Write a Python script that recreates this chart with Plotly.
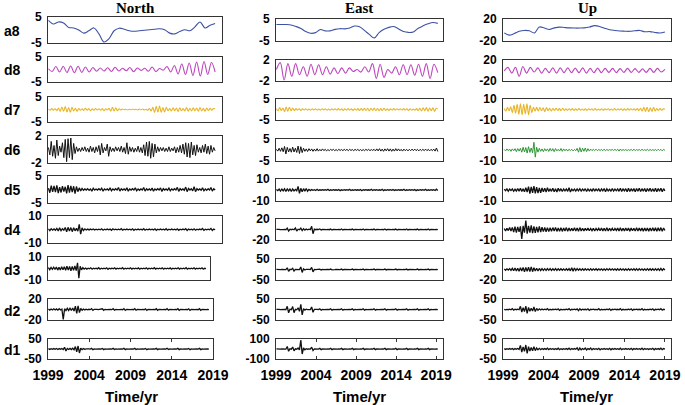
import numpy as np
import plotly.graph_objects as go

# ---------------- data ----------------
COMPONENTS = ["a8", "d8", "d7", "d6", "d5", "d4", "d3", "d2", "d1"]
DIRECTIONS = ["North", "East", "Up"]
X_TICKS = [1999, 2004, 2009, 2014, 2019]
X_TICK_LABELS = ["1999", "2004", "2009", "2014", "2019"]
Y_LIMITS_NORTH = [5, 5, 5, 2, 5, 10, 10, 20, 50]
Y_LIMITS_EAST = [5, 2, 5, 5, 10, 20, 50, 50, 100]
Y_LIMITS_UP = [20, 20, 10, 10, 10, 10, 20, 50, 50]
TIME_SPAN_NORTH = (1999.05, 2018.5)
TIME_SPAN_EAST = (1999.05, 2019.2)
TIME_SPAN_UP = (1999.15, 2019.0)

NORTH_A8 = [3.7, 2.3, 3.1, 2.7, 1.0, 0.8, 0.0, -1.2, -0.3, 0.8, -1.5, -4.6, -3.3, -0.3, 0.7, 0.3, -0.3,
            -0.5, -0.3, -0.1, 0.1, 0.3, 0.5, 0.1, -1.2, -1.5, -0.6, 0.1, -0.3, 1.2, 3.1, 0.8, 1.8, 2.5]
NORTH_D8 = [0.3, -0.8, 1.2, -1.0, 1.3, -1.2, 1.4, -1.3, 1.3, -1.2, 1.0, -1.0, 0.8, -0.7, 0.6, -0.6, 0.7,
            -0.8, 0.9, -0.6, 0.5, -0.5, 0.8, -0.9, 0.6, -0.4, 0.5, -0.7, 1.0, -0.8, 0.4, -0.3, 1.2, -1.0,
            1.6, -1.8, 2.2, -2.0, 2.6, -2.4, 3.0, -2.6, 3.2, -2.0, 2.8, -1.0]
NORTH_D7 = [0.2, -0.3, 0.4, -0.3, 0.3, -0.4, 0.6, -0.8, 1.0, -0.7,
            1.2, -1.0, 0.8, -1.1, 0.9, -0.6, 0.5, -0.7, 0.4, -0.3,
            0.3, -0.4, 0.5, -0.3, 0.4, -0.5, 0.3, -0.3, 0.4, -0.2,
            0.3, -0.3, 0.4, -0.5, 0.3, -0.2, 0.5, -0.7, 0.9, -0.6,
            0.7, -0.5, 0.3, -0.2, 0.2, -0.1, 0.1, -0.2, 0.1, -0.1,
            0.2, -0.1, 0.1, -0.2, 0.2, -0.1, 0.2, -0.2, 0.1, -0.3,
            0.4, -0.6, 0.9, -1.2, 1.3, -1.0, 1.4, -1.1, 0.8, -1.0,
            0.9, -0.5, 0.4, -0.6, 0.7, -0.5, 0.6, -0.8, 0.7, -0.5,
            0.4, -0.6, 0.8, -0.7, 0.5, -0.6, 0.7, -0.5, 0.6, -0.7,
            0.8, -0.6, 0.5, -0.7, 0.6, -0.4, 0.5, -0.3, 0.4, 0.3]
NORTH_D6 = [0.3, -0.8, 1.2, -1.0, 0.6, -1.3, 1.4, -0.9, 0.5, -0.4, 1.0, -1.2,
            1.5, -1.8, 1.6, -1.2, 1.7, -1.5, 0.9, -0.6, 0.4, -0.3, 0.2, -0.3,
            0.3, -0.2, 0.4, -0.3, 0.2, -0.4, 0.5, -0.3, 0.3, -0.5, 0.4, -0.3,
            0.6, -0.8, 0.9, -0.5, 0.3, -0.2, 0.8, -1.0, 0.4, -0.3, 0.2, -0.3,
            0.4, -0.2, 0.3, -0.3, 0.5, -0.4, 0.3, -0.6, 1.0, -0.7, 0.4, -0.3,
            0.3, -0.4, 0.2, -0.3, 0.5, -0.4, 0.3, -0.5, 0.7, -0.9, 1.1, -1.0,
            1.2, -1.3, 0.9, -1.1, 0.8, -0.5, 0.4, -0.3, 0.3, -0.2, 0.3, -0.3,
            0.2, -0.3, 0.4, -0.3, 0.2, -0.2, 0.4, -0.5, 0.3, -0.4, 0.6, -0.5,
            0.8, -0.7, 1.0, -1.1, 0.9, -1.2, 1.1, -0.8, 0.6, -0.9, 0.7, -0.4,
            0.3, -0.5, 0.6, -0.4, 0.8, -0.6, 0.5, -0.7, 0.6, -0.4, 0.3, -0.2]
NORTH_D5 = [0.5, -1.2, 1.4, -0.9, 1.3, -1.0, 1.5, -1.3, 0.9, -1.1, 1.2, -0.8,
            1.0, -1.4, 1.6, -1.2, 1.3, -1.0, 1.2, -1.5, 1.1, -0.8, 0.6, -0.5,
            0.4, -0.3, 0.2, -0.2, 0.3, -0.3, 0.2, -0.6, 0.5, -0.2, 0.2, -0.2,
            0.3, -0.2, 0.5, -0.6, 0.2, -0.2, 0.2, -0.3, 0.6, -0.5, 0.2, -0.2,
            0.3, -0.2, 0.7, -0.6, 0.3, -0.2, 0.2, -0.3, 0.6, -0.6, 0.2, -0.2,
            0.3, -0.2, 0.6, -0.5, 0.2, -0.3, 0.2, -0.2, 0.7, -0.6, 0.3, -0.2,
            0.2, -0.3, 0.5, -0.6, 0.2, -0.2, 0.3, -0.2, 0.6, -0.7, 0.3, -0.2,
            0.2, -0.3, 0.5, -0.5, 0.2, -0.2, 0.3, -0.2, 0.8, -0.7, 0.3, -0.2,
            0.2, -0.3, 0.9, -0.8, 0.4, -0.2, 0.3, -0.5, 1.0, -0.8, 0.3, -0.2,
            0.2, -0.3, 0.6, -0.5, 0.2, -0.3, 0.3, -0.2, 0.7, -0.6, 0.3, -0.2]
NORTH_D4 = [0.5, -0.8, 0.6, -0.5, 0.4, -0.6, 0.8, -1.0, 1.2, -0.9, 0.6, -0.5,
            1.5, -1.8, 1.6, -1.2, 1.4, -1.6, 1.3, -1.0, 0.8, -1.2, 3.8, -3.5,
            1.2, -0.8, 0.5, -0.4, 0.3, -0.3, 0.3, -0.2, 0.4, -0.4, 0.2, -0.3,
            0.2, -0.2, 0.5, -0.5, 0.2, -0.2, 0.3, -0.2, 0.3, -0.6, 0.5, -0.2,
            0.2, -0.3, 0.2, -0.2, 0.6, -0.5, 0.2, -0.2, 0.3, -0.2, 0.2, -0.3,
            0.5, -0.6, 0.2, -0.2, 0.3, -0.2, 0.2, -0.3, 0.6, -0.5, 0.2, -0.2,
            0.3, -0.2, 0.2, -0.3, 0.5, -0.6, 0.2, -0.2, 0.3, -0.2, 0.2, -0.3,
            0.6, -0.5, 0.2, -0.2, 0.3, -0.2, 0.2, -0.3, 0.5, -0.6, 0.2, -0.2,
            0.3, -0.2, 0.6, -0.7, 0.3, -0.2, 0.2, -0.3, 0.5, -0.5, 0.2, -0.2,
            0.3, -0.2, 0.7, -0.6, 0.2, -0.3, 0.2, -0.2, 0.8, -0.7, 0.3, -0.2]
NORTH_D3 = [0.8, -1.0, 0.9, -0.7, 1.1, -0.9, 1.2, -1.4, 1.0, -1.3, 1.5, -1.1,
            1.6, -1.5, 1.9, -1.4, 1.7, -2.0, 1.8, -1.6, 2.2, -1.8, 5.0, -8.5,
            2.0, -1.2, 0.8, -0.6, 0.4, -0.5, 0.3, -0.3, 0.6, -0.6, 0.3, -0.2,
            0.3, -0.3, 0.7, -0.6, 0.2, -0.3, 0.3, -0.2, 0.6, -0.7, 0.3, -0.2,
            0.2, -0.3, 0.6, -0.5, 0.3, -0.2, 0.3, -0.2, 0.7, -0.6, 0.2, -0.3,
            0.2, -0.3, 0.6, -0.5, 0.3, -0.2, 0.3, -0.2, 0.5, -0.6, 0.2, -0.3,
            0.2, -0.3, 0.6, -0.6, 0.3, -0.2, 0.3, -0.2, 0.7, -0.5, 0.2, -0.3,
            0.2, -0.3, 0.6, -0.6, 0.3, -0.2, 0.3, -0.2, 0.5, -0.6, 0.2, -0.3,
            0.2, -0.3, 0.6, -0.5, 0.3, -0.2, 0.3, -0.2, 0.7, -0.6, 0.2, -0.3,
            0.2, -0.3, 0.6, -0.5, 0.3, -0.2, 0.3, -0.2, 0.6, -0.6, 0.2, -0.2]
NORTH_D2 = [1.0, -1.2, 0.8, -1.0, 1.3, -0.9, 1.1, -1.3, 1.5, -1.0, 0.8, -19.0,
            1.5, -2.0, 2.2, -1.8, 2.5, -2.0, 2.8, -3.0, 6.5, -7.5, 7.0, -6.0,
            2.0, -1.5, 1.0, -0.8, 0.6, -0.5, 0.4, -0.3, 1.5, -1.6, 0.3, -0.4,
            0.3, -0.3, 0.4, -0.3, 1.4, -1.5, 0.3, -0.4, 0.3, -0.3, 0.4, -0.3,
            1.5, -1.4, 0.3, -0.3, 0.4, -0.3, 0.3, -0.4, 1.6, -1.5, 0.3, -0.3,
            0.4, -0.3, 0.3, -0.4, 1.5, -1.4, 0.3, -0.3, 0.4, -0.3, 0.3, -0.4,
            1.4, -1.6, 0.3, -0.3, 0.4, -0.3, 0.3, -0.4, 1.5, -1.5, 0.3, -0.3,
            0.4, -0.3, 0.3, -0.4, 1.6, -1.4, 0.3, -0.3, 0.4, -0.3, 0.3, -0.4,
            1.5, -1.5, 0.3, -0.3, 0.4, -0.3, 0.3, -0.4, 1.4, -1.6, 0.3, -0.3,
            0.4, -0.3, 0.3, -0.4, 1.5, -1.5, 0.3, -0.3, 0.4, -0.3, 0.3, -0.2]
NORTH_D1 = [1.5, -2.0, 1.8, -1.5, 2.0, -1.8, 2.2, -2.5, 2.0, -1.8, 2.5, -3.0,
            9.0, -10.0, 3.0, -2.5, 3.0, -2.8, 3.5, -4.0, 12.0, -14.0, 15.0, -20.0,
            4.0, -3.0, 2.0, -1.5, 1.0, -1.0, 0.8, -0.7, 3.0, -3.2, 0.7, -0.8,
            0.7, -0.6, 0.8, -0.7, 2.8, -3.0, 0.6, -0.8, 0.7, -0.6, 0.8, -0.7,
            3.0, -2.8, 0.7, -0.6, 0.8, -0.7, 0.6, -0.8, 3.2, -3.0, 0.7, -0.6,
            0.8, -0.7, 0.6, -0.8, 3.0, -2.8, 0.7, -0.6, 0.8, -0.7, 0.6, -0.8,
            2.8, -3.2, 0.7, -0.6, 0.8, -0.7, 0.6, -0.8, 3.0, -3.0, 0.7, -0.6,
            0.8, -0.7, 0.6, -0.8, 3.2, -2.8, 0.7, -0.6, 0.8, -0.7, 0.6, -0.8,
            3.0, -3.0, 0.7, -0.6, 0.8, -0.7, 0.6, -0.8, 2.8, -3.2, 0.7, -0.6,
            0.8, -0.7, 0.6, -0.8, 3.0, -3.0, 0.7, -0.6, 0.8, -0.7, 0.6, -0.4]

EAST_A8 = [2.5, 2.5, 2.5, 2.3, 1.6, 0.7, -0.7, -1.5, -1.2, 0.2, -0.4, -0.4, 0.3, 0.6, 0.5, 0.9, 1.8,
           1.5, -0.2, -2.0, -3.6, -1.2, 0.3, 1.2, 1.6, 0.5, -0.7, -1.1, -0.9, 0.8, 1.9, 2.8, 3.4, 3.0]
EAST_D8 = [0.2, 1.5, -1.8, 1.3, -1.1, 1.3, -0.8, 0.7, -1.1, 1.2, -0.8, 1.1, -0.8, 0.7, -0.7, 0.5,
           -0.6, 0.5, -0.5, 0.5, -0.2, 0.2, -0.3, 0.7, -0.3, 1.3, -1.5, 1.2, -1.3, 0.2, -0.5, 0.7,
           -0.8, 1.1, -0.8, 1.1, -0.9, 1.2, -1.1, 1.3, -1.5, 1.2, -0.4]
EAST_D7 = [0.3, -0.6, 0.9, -0.5, 0.7, -1.0, 1.2, -0.8, 1.1, -0.6,
           0.7, -0.5, 0.4, -0.3, 0.3, -0.4, 0.3, -0.2, 0.3, -0.3,
           0.2, -0.3, 0.3, -0.2, 0.3, -0.3, 0.2, -0.3, 0.3, -0.2,
           0.3, -0.3, 0.2, -0.3, 0.3, -0.2, 0.3, -0.3, 0.4, -0.3,
           0.3, -0.4, 0.3, -0.3, 0.4, -0.3, 0.3, -0.4, 0.3, -0.3,
           0.4, -0.5, 0.5, -0.4, 0.6, -0.5, 0.6, -0.7, 0.6, -0.5,
           0.7, -0.6, 0.5, -0.6, 0.4, -0.5, 0.6, -0.4, 0.3, -0.4,
           0.3, -0.3, 0.4, -0.3, 0.3, -0.2, 0.3, -0.3, 0.4, -0.3,
           0.3, -0.4, 0.3, -0.3, 0.2, -0.3, 0.4, -0.5, 0.6, -0.7,
           0.8, -0.6, 0.9, -0.8, 0.7, -0.6, 0.8, -0.9, 0.6, 0.3]
EAST_D6 = [0.3, -0.5, 0.8, -0.6, 1.0, -0.8, 1.6, -1.8, 1.2, -0.9, 0.7, -1.0,
           1.3, -0.9, 0.8, -1.1, 1.8, -1.6, 1.5, -1.2, 0.8, -0.6, 0.5, -0.7,
           0.6, -0.4, 0.5, -0.6, 0.4, -0.5, 0.6, -0.5, 0.3, -0.4, 0.5, -0.3,
           0.3, -0.4, 0.2, -0.3, 0.3, -0.2, 0.3, -0.3, 0.2, -0.3, 0.3, -0.2,
           0.2, -0.3, 0.3, -0.2, 0.3, -0.3, 0.3, -0.2, 0.2, -0.3, 0.3, -0.2,
           0.3, -0.3, 0.2, -0.3, 0.2, -0.3, 0.3, -0.2, 0.3, -0.3, 0.2, -0.2,
           0.3, -0.4, 0.5, -0.4, 0.6, -0.5, 0.4, -0.6, 0.5, -0.4, 0.6, -0.5,
           0.5, -0.6, 0.4, -0.5, 0.6, -0.4, 0.5, -0.4, 0.3, -0.5, 0.4, -0.3,
           0.3, -0.4, 0.3, -0.3, 0.4, -0.3, 0.4, -0.3, 0.3, -0.4, 0.3, -0.3,
           0.3, -0.3, 0.4, -0.3, 0.3, -0.4, 0.3, -0.3, 0.4, -0.5, 0.9, -0.7]
EAST_D5 = [0.4, -0.6, 0.8, -1.0, 0.9, -0.7, 1.1, -1.3, 1.0, -0.8, 0.9, -1.2,
           1.0, -0.8, 0.6, -0.7, 3.2, -3.0, 1.5, -1.6, 1.2, -1.0, 1.4, -1.1,
           0.6, -0.5, 0.4, -0.3, 0.3, -0.4, 0.6, -0.5, 0.2, -0.2, 0.3, -0.2,
           0.3, -0.3, 0.6, -0.5, 0.2, -0.3, 0.3, -0.2, 0.2, -0.3, 0.5, -0.6,
           0.2, -0.3, 0.3, -0.2, 0.3, -0.3, 0.6, -0.5, 0.2, -0.3, 0.3, -0.2,
           0.2, -0.3, 0.5, -0.6, 0.3, -0.2, 0.3, -0.2, 0.2, -0.3, 0.6, -0.5,
           0.3, -0.2, 0.3, -0.3, 0.2, -0.3, 0.6, -0.6, 0.2, -0.3, 0.3, -0.2,
           0.3, -0.3, 0.5, -0.5, 0.2, -0.3, 0.3, -0.2, 0.2, -0.3, 0.6, -0.5,
           0.2, -0.3, 0.3, -0.2, 0.3, -0.3, 0.5, -0.6, 0.2, -0.3, 0.3, -0.2,
           0.3, -0.3, 0.6, -0.5, 0.2, -0.3, 0.3, -0.2, 0.3, -0.4, 0.7, -0.5]
EAST_D4 = [0.3, -0.4, 0.3, -0.3, 0.4, -0.3, 0.3, -0.4, 2.5, -2.8, 0.5, -0.4,
           0.6, -0.5, 2.8, -3.0, 0.6, -0.5, 2.5, -2.0, 1.5, -1.2, 0.8, -0.6,
           0.5, -0.4, 6.0, -8.0, 0.6, -0.4, 0.4, -0.3, 0.9, -0.8, 0.3, -0.3,
           0.4, -0.3, 0.3, -0.4, 0.8, -0.9, 0.3, -0.3, 0.4, -0.3, 0.3, -0.4,
           0.9, -0.8, 0.3, -0.3, 0.4, -0.3, 0.3, -0.4, 0.8, -0.9, 0.3, -0.3,
           0.4, -0.3, 0.3, -0.4, 0.9, -0.8, 0.3, -0.3, 0.4, -0.3, 0.3, -0.4,
           0.8, -0.9, 0.3, -0.3, 0.4, -0.3, 0.3, -0.4, 0.9, -0.8, 0.3, -0.3,
           0.4, -0.3, 0.3, -0.4, 0.8, -0.9, 0.3, -0.3, 0.4, -0.3, 0.3, -0.4,
           0.9, -0.8, 0.3, -0.3, 0.4, -0.3, 0.3, -0.4, 0.8, -0.9, 0.3, -0.3,
           0.4, -0.3, 0.3, -0.4, 0.9, -0.8, 0.3, -0.3, 0.4, -0.3, 0.3, -0.2]
EAST_D3 = [0.5, -0.6, 0.5, -0.4, 0.6, -0.5, 0.6, -0.5, 8.0, -9.0, 0.8, -0.6,
           6.0, -7.0, 0.6, -0.5, 0.7, -0.6, 12.0, -14.0, 3.0, -2.5, 1.0, -0.8,
           0.6, -0.5, 10.0, -11.0, 0.6, -0.5, 0.6, -0.5, 2.0, -2.2, 0.5, -0.6,
           0.5, -0.4, 0.6, -0.5, 2.2, -2.0, 0.5, -0.6, 0.4, -0.5, 0.6, -0.5,
           2.0, -2.2, 0.5, -0.4, 0.6, -0.5, 0.4, -0.6, 2.2, -2.0, 0.5, -0.5,
           0.6, -0.4, 0.5, -0.6, 2.0, -2.2, 0.5, -0.5, 0.6, -0.4, 0.5, -0.6,
           2.2, -2.0, 0.4, -0.5, 0.6, -0.5, 0.5, -0.6, 2.0, -2.0, 0.5, -0.4,
           0.6, -0.5, 0.4, -0.6, 2.2, -2.0, 0.5, -0.5, 0.6, -0.4, 0.5, -0.6,
           2.0, -2.2, 0.5, -0.4, 0.6, -0.5, 0.4, -0.6, 2.2, -2.0, 0.5, -0.5,
           0.6, -0.4, 0.5, -0.6, 2.0, -2.2, 0.5, -0.5, 0.6, -0.4, 0.5, -0.3]
EAST_D2 = [0.8, -1.0, 0.9, -0.7, 1.0, -0.8, 1.0, -0.9, 15.0, -16.0, 1.2, -1.0,
           14.0, -15.0, 1.0, -1.2, 8.0, -9.0, 25.0, -26.0, 4.0, -3.0, 1.2, -1.0,
           0.8, -0.7, 12.0, -13.0, 1.0, -0.8, 0.8, -0.7, 3.0, -3.2, 0.7, -0.8,
           0.7, -0.6, 0.8, -0.7, 3.2, -3.0, 0.6, -0.8, 0.7, -0.6, 0.8, -0.7,
           3.0, -3.0, 0.7, -0.6, 0.8, -0.7, 0.6, -0.8, 3.2, -3.0, 0.7, -0.6,
           0.8, -0.7, 0.6, -0.8, 3.0, -3.2, 0.7, -0.6, 0.8, -0.7, 0.6, -0.8,
           3.0, -3.0, 0.7, -0.6, 0.8, -0.7, 0.6, -0.8, 3.2, -3.0, 0.7, -0.6,
           0.8, -0.7, 0.6, -0.8, 3.0, -3.2, 0.7, -0.6, 0.8, -0.7, 0.6, -0.8,
           3.0, -3.0, 0.7, -0.6, 0.8, -0.7, 0.6, -0.8, 3.2, -3.0, 0.7, -0.6,
           0.8, -0.7, 0.6, -0.8, 3.0, -3.0, 0.7, -0.6, 0.8, -0.7, 0.6, -0.4]
EAST_D1 = [1.5, -2.0, 1.8, -1.5, 2.0, -1.8, 2.0, -1.8, 25.0, -22.0, 2.0, -1.5,
           20.0, -18.0, 2.0, -1.8, 10.0, -8.0, 90.0, -50.0, 10.0, -8.0, 2.5, -2.0,
           1.5, -1.2, 18.0, -15.0, 1.5, -1.2, 1.5, -1.4, 6.0, -6.0, 1.4, -1.5,
           1.4, -1.2, 1.5, -1.4, 6.0, -6.0, 1.2, -1.5, 1.4, -1.2, 1.5, -1.4,
           6.0, -6.0, 1.4, -1.2, 1.5, -1.4, 1.2, -1.5, 6.0, -6.0, 1.4, -1.2,
           1.5, -1.4, 1.2, -1.5, 6.0, -6.0, 1.4, -1.2, 1.5, -1.4, 1.2, -1.5,
           6.0, -6.0, 1.4, -1.2, 1.5, -1.4, 1.2, -1.5, 6.0, -6.0, 1.4, -1.2,
           1.5, -1.4, 1.2, -1.5, 6.0, -6.0, 1.4, -1.2, 1.5, -1.4, 1.2, -1.5,
           6.0, -6.0, 1.4, -1.2, 1.5, -1.4, 1.2, -1.5, 6.0, -6.0, 1.4, -1.2,
           1.5, -1.4, 1.2, -1.5, 6.0, -6.0, 1.4, -1.2, 1.5, -1.4, 1.2, -0.8]

UP_A8 = [-5.3, -9.4, -6.5, -2.4, -0.8, -1.5, -5.3, 5.5, 3.5, 1.0, 3.8, 5.3, 4.5, 3.8, 3.5, 3.5, 3.8,
         5.5, 8.0, 6.5, 3.0, 0.5, -0.8, -1.8, -2.2, -2.4, -1.5, -0.8, -3.2, -2.9, -4.5, -5.5, -3.5]
UP_D8 = [-1, 6, -5, 6, -11, 7.5, -5, 6, -3, 5, -5, 4, -4, 5, -5, 5, -4, 5, -4, 4.5, -4, 5, -5, 4,
         -4, 4.5, -4, 4, -3.5, 4, -4, 3.5, -3.5, 4, -3.5, 3.5, -3.5, 3, -3.5, 4, -3.5, 4, -3, 2]
UP_D7 = [1.0, -1.5, 2.0, -1.2, 2.5, -3.0, 4.0, -3.5, 5.0, -4.5,
         5.5, -5.0, 5.0, -4.0, 5.5, -5.0, 4.0, -3.0, 2.0, -1.5,
         2.0, -1.5, 1.8, -1.2, 1.5, -2.0, 1.8, -1.0, 1.2, -1.5,
         1.0, -0.8, 1.2, -1.0, 0.8, -1.0, 1.2, -0.8, 0.6, -0.8,
         0.7, -0.6, 0.8, -0.9, 0.6, -0.7, 0.8, -0.6, 0.5, -0.7,
         0.6, -0.8, 0.7, -0.5, 0.6, -0.7, 0.8, -0.6, 0.5, -0.6,
         0.7, -0.8, 0.6, -0.5, 0.7, -0.6, 0.5, -0.7, 0.8, -0.6,
         0.6, -0.5, 0.7, -0.8, 0.6, -0.7, 0.8, -0.6, 0.7, -0.5,
         0.6, -0.7, 0.8, -1.0, 1.2, -1.5, 2.0, -1.8, 2.2, -2.0,
         1.5, -1.8, 2.2, -1.5, 1.0, -0.8, 0.9, -0.7, 0.6, 0.2]
UP_D6 = [0.5, -0.8, 1.0, -0.6, 0.8, -1.2, 1.0, -0.7, 1.2, -1.5, 1.3, -1.0,
         1.5, -2.0, 2.5, -1.8, 2.2, -2.8, 3.0, -2.2, 1.8, -2.5, 7.0, -6.5,
         2.5, -2.0, 1.5, -1.2, 1.0, -1.5, 1.2, -0.8, 1.0, -1.3, 1.5, -1.0,
         1.2, -1.5, 1.3, -0.8, 0.6, -1.0, 1.4, -1.2, 1.0, -0.7, 0.8, -1.0,
         0.7, -0.5, 0.6, -0.8, 0.5, -0.6, 1.5, -2.0, 2.2, -1.8, 1.6, -1.2,
         1.8, -1.5, 1.2, -1.0, 0.8, -0.6, 0.6, -0.5, 0.7, -0.6, 0.5, -0.4,
         0.5, -0.6, 0.8, -0.7, 0.5, -0.4, 0.4, -0.3, 0.5, -0.4, 0.6, -0.5,
         0.7, -1.0, 0.9, -0.6, 0.4, -0.3, 0.4, -0.5, 0.3, -0.4, 0.6, -0.7,
         0.8, -0.6, 0.4, -0.3, 0.4, -0.5, 0.6, -0.4, 0.3, -0.5, 0.7, -0.6,
         0.5, -0.4, 0.3, -0.4, 0.5, -0.6, 0.7, -0.5, 0.6, -0.8, 0.6, -0.3]
UP_D5 = [0.8, -0.6, 1.0, -1.2, 0.8, -0.5, 1.0, -1.2, 0.7, -0.9, 1.2, -1.0,
         1.5, -1.3, 1.0, -1.6, 2.0, -1.8, 3.0, -3.2, 2.8, -2.5, 3.5, -3.0,
         2.5, -2.8, 2.0, -2.5, 1.8, -1.5, 1.5, -1.8, 2.0, -1.4, 1.0, -1.2,
         1.6, -1.5, 1.2, -1.8, 1.5, -1.0, 1.2, -1.4, 1.0, -0.8, 1.0, -1.2,
         2.0, -1.8, 0.8, -0.6, 0.8, -1.0, 0.9, -0.8, 1.2, -1.0, 0.8, -0.7,
         1.2, -1.4, 1.0, -0.8, 0.7, -0.9, 1.3, -1.1, 0.8, -0.7, 1.0, -1.2,
         1.0, -0.8, 1.4, -1.5, 1.0, -0.8, 0.7, -0.9, 1.2, -1.0, 0.8, -0.7,
         1.0, -1.2, 1.5, -1.3, 0.9, -0.8, 1.2, -1.5, 1.6, -1.4, 1.2, -1.0,
         1.4, -1.6, 1.3, -1.2, 1.5, -1.4, 1.2, -1.0, 1.4, -1.5, 1.3, -1.2,
         1.5, -1.4, 1.2, -1.3, 1.6, -1.5, 1.4, -1.2, 1.5, -1.6, 1.2, -0.8]
UP_D4 = [1.0, -1.5, 1.2, -1.0, 1.8, -1.5, 2.0, -2.5, 2.8, -3.0, 2.5, -2.2,
         3.0, -9.0, 3.5, -3.0, 8.5, -4.0, 3.5, -3.0, 4.0, -3.5, 3.0, -3.2,
         2.5, -2.8, 3.0, -2.5, 2.2, -2.0, 2.0, -2.2, 1.8, -2.0, 1.6, -1.8,
         1.8, -1.5, 2.0, -1.8, 1.5, -1.6, 1.6, -1.8, 1.4, -1.5, 1.8, -1.6,
         1.5, -1.4, 1.2, -1.3, 1.6, -1.5, 1.4, -1.6, 1.8, -1.5, 1.2, -1.4,
         1.2, -1.0, 1.3, -1.2, 1.0, -1.1, 1.2, -1.4, 1.0, -0.9, 1.1, -1.2,
         1.4, -1.3, 1.2, -1.5, 1.6, -1.4, 1.2, -1.0, 1.1, -1.2, 1.0, -0.9,
         1.3, -1.4, 1.6, -1.5, 1.2, -1.3, 1.4, -1.2, 1.5, -1.6, 1.3, -1.2,
         1.2, -1.5, 1.6, -1.4, 1.5, -1.3, 1.4, -1.6, 1.5, -1.3, 1.4, -1.6,
         1.5, -1.4, 1.6, -1.5, 1.7, -1.8, 1.6, -1.5, 1.8, -1.7, 1.4, -1.0]
UP_D3 = [1.2, -1.5, 1.3, -1.0, 1.6, -1.8, 2.2, -2.5, 3.0, -2.8, 2.5, -3.2,
         3.5, -3.0, 4.0, -4.5, 3.8, -3.5, 4.5, -4.0, 5.0, -4.2, 3.5, -3.0,
         2.5, -2.8, 2.0, -2.2, 1.8, -1.6, 1.5, -1.8, 1.6, -1.5, 1.8, -1.6,
         1.4, -1.5, 1.6, -1.8, 1.5, -1.3, 1.5, -1.4, 1.2, -1.6, 1.4, -1.5,
         1.8, -2.5, 3.5, -3.2, 2.8, -2.0, 1.6, -1.5, 1.4, -1.6, 1.5, -1.3,
         1.4, -1.2, 1.3, -1.5, 1.6, -1.4, 1.2, -1.3, 1.5, -1.4, 1.2, -1.1,
         1.3, -1.4, 1.2, -1.5, 1.6, -1.2, 1.4, -1.3, 1.2, -1.1, 1.3, -1.4,
         1.5, -1.6, 1.4, -1.2, 1.3, -1.4, 1.2, -1.5, 1.6, -1.4, 1.3, -1.2,
         1.4, -1.3, 1.5, -1.6, 1.4, -1.2, 1.3, -1.4, 1.2, -1.5, 1.6, -1.4,
         1.5, -1.3, 1.4, -1.6, 1.5, -1.4, 1.6, -1.8, 2.0, -1.6, 1.4, -0.8]
UP_D2 = [1.0, -1.2, 0.8, -1.0, 1.2, -1.5, 4.0, -3.5, 1.2, -1.0, 1.5, -1.2,
         15.0, -12.0, 8.0, -10.0, 16.0, -18.0, 10.0, -8.0, 6.0, -7.0, 12.0, -10.0,
         5.0, -4.0, 3.0, -2.5, 2.0, -1.5, 1.2, -1.0, 4.0, -3.5, 1.0, -1.2,
         1.0, -0.8, 1.2, -1.0, 3.5, -4.0, 1.0, -1.2, 0.8, -1.0, 1.2, -1.0,
         4.0, -3.5, 1.0, -0.8, 1.2, -1.0, 3.0, -5.0, 4.0, -3.0, 1.2, -1.0,
         1.0, -1.2, 3.5, -4.0, 1.0, -0.8, 1.2, -1.0, 0.8, -1.2, 4.0, -3.5,
         1.0, -1.2, 0.8, -1.0, 1.2, -1.0, 3.5, -4.0, 1.0, -0.8, 1.2, -1.0,
         1.0, -1.2, 4.0, -3.5, 1.0, -1.2, 0.8, -1.0, 1.2, -1.0, 3.5, -4.0,
         1.0, -0.8, 1.2, -1.0, 1.0, -1.2, 4.0, -3.5, 1.0, -1.2, 0.8, -1.0,
         1.2, -1.0, 3.5, -4.0, 1.0, -0.8, 1.2, -1.0, 4.0, -3.5, 1.0, -0.6]
UP_D1 = [1.5, -2.0, 1.8, -1.5, 2.0, -1.8, 2.5, -3.0, 2.0, -1.8, 2.5, -2.0,
         18.0, -16.0, 10.0, -12.0, 20.0, -22.0, 12.0, -10.0, 8.0, -9.0, 11.0, -8.0,
         5.0, -4.0, 3.0, -3.5, 2.5, -2.0, 2.0, -1.8, 4.0, -3.5, 2.0, -1.5,
         1.8, -2.0, 1.5, -1.8, 4.0, -3.5, 1.5, -2.0, 1.8, -1.5, 2.0, -1.8,
         4.0, -3.5, 2.0, -1.8, 2.0, -1.5, 6.0, -7.0, 5.0, -4.0, 2.0, -2.5,
         4.5, -5.0, 2.0, -1.8, 5.0, -4.0, 2.0, -1.5, 1.8, -2.0, 3.5, -4.0,
         1.5, -1.8, 2.0, -1.5, 1.8, -2.0, 3.5, -4.0, 1.8, -1.5, 2.0, -1.8,
         1.5, -2.0, 4.0, -3.5, 1.8, -1.5, 2.0, -1.8, 1.5, -2.0, 3.5, -4.0,
         1.8, -1.5, 2.0, -1.8, 1.5, -2.0, 4.0, -3.5, 2.0, -1.5, 1.8, -2.0,
         1.5, -1.8, 3.5, -4.0, 1.8, -1.5, 2.0, -1.8, 4.0, -3.5, 2.0, -1.0]

# ---------------- assemble ----------------
SERIES = {
    "North": [NORTH_A8, NORTH_D8, NORTH_D7, NORTH_D6, NORTH_D5, NORTH_D4, NORTH_D3, NORTH_D2, NORTH_D1],
    "East": [EAST_A8, EAST_D8, EAST_D7, EAST_D6, EAST_D5, EAST_D4, EAST_D3, EAST_D2, EAST_D1],
    "Up": [UP_A8, UP_D8, UP_D7, UP_D6, UP_D5, UP_D4, UP_D3, UP_D2, UP_D1],
}
LIMITS = {"North": Y_LIMITS_NORTH, "East": Y_LIMITS_EAST, "Up": Y_LIMITS_UP}
SPANS = {"North": TIME_SPAN_NORTH, "East": TIME_SPAN_EAST, "Up": TIME_SPAN_UP}

# ---------------- layout (pixels) ----------------
W, H = 685, 405
ROWS_NORTH = [(17, 43), (57, 82), (97, 122), (136, 163), (176, 203), (216, 243), (257, 280), (299, 320), (339, 359)]
ROWS_OTHER = [(19, 41), (60, 81), (99, 120), (139, 161), (179, 201), (219, 240), (259, 280), (299, 320), (339, 359)]
COLS_NORTH = [(48, 222)] * 6 + [(48, 210), (48, 213), (48, 213)]
XR_NORTH = [[1999, 2019.3]] * 6 + [[1999, 2019]] * 3
COLS = {"East": (276, 443), "Up": (503, 671)}
XR = {"East": [1999, 2019.85], "Up": [1999, 2019.75]}

ROW_COLORS = ["#3d52a4", "#bd45bd", "#e8b426", "#111111", "#111111", "#111111", "#111111", "#111111", "#111111"]
ROW_WIDTHS = [1.1, 1.1, 1.1, 1.0, 1.3, 1.3, 1.3, 1.3, 1.3]
GREEN = "#2e9636"
FONT = "Liberation Sans, Arial, sans-serif"

fig = go.Figure()
layout = dict(width=W, height=H, autosize=False, margin=dict(l=0, r=0, t=0, b=0, pad=0),
              paper_bgcolor="white", plot_bgcolor="white", showlegend=False,
              font=dict(family=FONT, color="black"))
annotations = []

for ci, col in enumerate(DIRECTIONS):
    for ri, comp in enumerate(COMPONENTS):
        n = ri * 3 + ci + 1
        xa = "x" if n == 1 else f"x{n}"
        ya = "y" if n == 1 else f"y{n}"
        vals = SERIES[col][ri]
        t0, t1 = SPANS[col]
        t = np.linspace(t0, t1, len(vals))
        color = ROW_COLORS[ri]
        if col == "Up" and comp == "d6":
            color = GREEN
        shape = "spline" if ri < 3 else "linear"
        fig.add_trace(go.Scatter(x=t, y=vals, mode="lines", xaxis=xa, yaxis=ya,
                                 line=dict(color=color, width=ROW_WIDTHS[ri], shape=shape),
                                 hoverinfo="skip", showlegend=False))
        if col == "North":
            (x0, x1), (y0, y1), xr = COLS_NORTH[ri], ROWS_NORTH[ri], XR_NORTH[ri]
        else:
            (x0, x1), (y0, y1), xr = COLS[col], ROWS_OTHER[ri], XR[col]
        bottom = ri == len(COMPONENTS) - 1
        lim = LIMITS[col][ri]
        xkey = "xaxis" if n == 1 else f"xaxis{n}"
        ykey = "yaxis" if n == 1 else f"yaxis{n}"
        layout[xkey] = dict(domain=[x0 / W, x1 / W], range=xr, anchor=ya, automargin=False,
                            showgrid=False, zeroline=False, showline=True, linecolor="#333333",
                            linewidth=1, mirror="ticks" if bottom else True,
                            ticks="inside" if bottom else "", ticklen=3, tickcolor="#333333",
                            tickvals=X_TICKS, ticktext=X_TICK_LABELS, showticklabels=bottom,
                            ticklabelstandoff=3,
                            tickfont=dict(family=FONT, size=14, color="black", weight="bold"))
        layout[ykey] = dict(domain=[1 - y1 / H, 1 - y0 / H], range=[-lim, lim], anchor=xa,
                            automargin=False,
                            showgrid=False, zeroline=False, showline=True, linecolor="#333333",
                            linewidth=1, mirror=True, ticks="",
                            tickvals=[-lim, lim], ticktext=["-" + str(lim), str(lim)],
                            ticklabelstandoff=3,
                            tickfont=dict(family=FONT, size=12, color="black", weight="bold"))
        if col == "North":
            annotations.append(dict(text=comp, x=12 / W, y=1 - ((y0 + y1) / 2 + 1) / H,
                                    xref="paper", yref="paper", showarrow=False,
                                    xanchor="center", yanchor="middle",
                                    font=dict(family=FONT, size=14, color="black", weight="bold")))
    if col == "North":
        cx0, cx1 = COLS_NORTH[0]
        tx = 131
    else:
        cx0, cx1 = COLS[col]
        tx = {"East": 359, "Up": 586}[col]
    annotations.append(dict(text=col, x=((cx0 + cx1) / 2) / W, y=1.0, xref="paper", yref="paper",
                            showarrow=False, xanchor="center", yanchor="top", yshift=2,
                            font=dict(family="Liberation Serif, Times New Roman, serif", size=15,
                                      color="black", weight="bold")))
    annotations.append(dict(text="Time/yr", x=tx / W, y=1 - 396 / H, xref="paper", yref="paper",
                            showarrow=False, xanchor="center", yanchor="middle",
                            font=dict(family=FONT, size=15, color="black", weight="bold")))

layout["annotations"] = annotations
fig.update_layout(**layout)
fig.write_html("out.html", config={"displayModeBar": False},
               post_script="document.body.style.margin='0';document.body.style.padding='0';")
